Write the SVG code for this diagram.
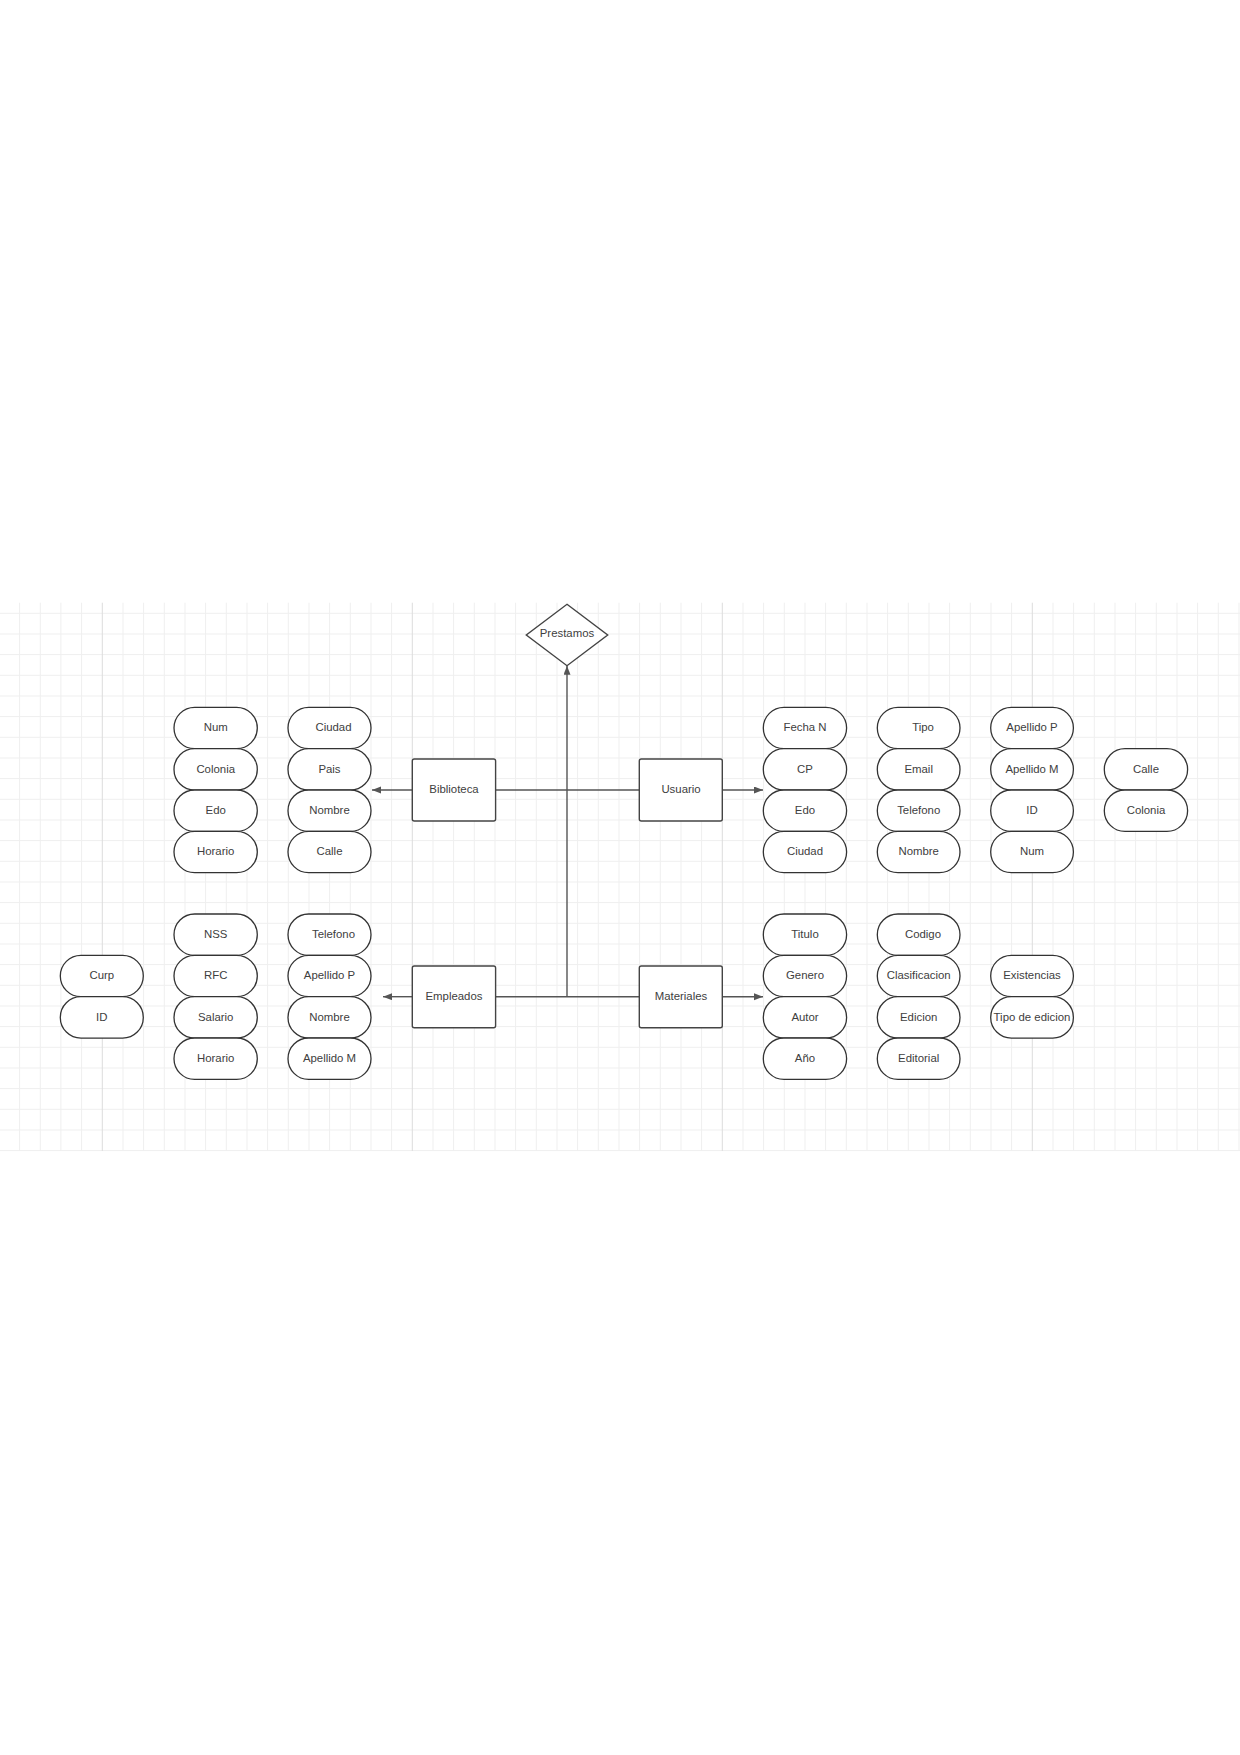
<svg xmlns="http://www.w3.org/2000/svg" width="1240" height="1755" viewBox="0 0 1240 1755">
<style>
.grid{stroke:#efefef;stroke-width:1;fill:none}
.major{stroke:#dcdcdc;stroke-width:1;fill:none}
.pill{fill:#ffffff;stroke:#333333;stroke-width:1.3}
.box{fill:#ffffff;stroke:#444444;stroke-width:1.4}
.t{font-family:"Liberation Sans",Arial,sans-serif;font-size:11.4px;fill:#404040;text-anchor:middle}
.con{stroke:#555555;stroke-width:1.4;fill:none}
</style>
<defs>
<marker id="arr" markerUnits="userSpaceOnUse" markerWidth="10" markerHeight="8" refX="9" refY="3.5" orient="auto">
<path d="M0,0 L9,3.5 L0,7 z" fill="#555555"/>
</marker>
</defs>
<rect width="1240" height="1755" fill="#ffffff"/>
<g id="grid">
<path class="grid" d="M19.6,602.7V1151M40.3,602.7V1151M60.9,602.7V1151M81.6,602.7V1151M123,602.7V1151M143.6,602.7V1151M164.3,602.7V1151M185,602.7V1151M205.6,602.7V1151M226.3,602.7V1151M247,602.7V1151M267.6,602.7V1151M288.3,602.7V1151M309,602.7V1151M329.6,602.7V1151M350.3,602.7V1151M371,602.7V1151M391.6,602.7V1151M433,602.7V1151M453.6,602.7V1151M474.3,602.7V1151M495,602.7V1151M515.6,602.7V1151M536.3,602.7V1151M557,602.7V1151M577.6,602.7V1151M598.3,602.7V1151M619,602.7V1151M639.6,602.7V1151M660.3,602.7V1151M681,602.7V1151M701.6,602.7V1151M743,602.7V1151M763.6,602.7V1151M784.3,602.7V1151M805,602.7V1151M825.6,602.7V1151M846.3,602.7V1151M867,602.7V1151M887.6,602.7V1151M908.3,602.7V1151M929,602.7V1151M949.6,602.7V1151M970.3,602.7V1151M991,602.7V1151M1011.6,602.7V1151M1053,602.7V1151M1073.6,602.7V1151M1094.3,602.7V1151M1115,602.7V1151M1135.6,602.7V1151M1156.3,602.7V1151M1177,602.7V1151M1197.6,602.7V1151M1218.3,602.7V1151M1239,602.7V1151"/>
<path class="grid" d="M0,613.3H1240M0,634H1240M0,654.6H1240M0,675.3H1240M0,696H1240M0,716.6H1240M0,737.3H1240M0,758H1240M0,778.6H1240M0,799.3H1240M0,820H1240M0,840.6H1240M0,861.3H1240M0,882H1240M0,902.6H1240M0,923.3H1240M0,944H1240M0,964.6H1240M0,985.3H1240M0,1006H1240M0,1026.6H1240M0,1047.3H1240M0,1068H1240M0,1088.6H1240M0,1109.3H1240M0,1130H1240M0,1150.6H1240"/>
<path class="major" d="M102.3,602.7V1151M412.3,602.7V1151M722.3,602.7V1151M1032.3,602.7V1151"/>
</g>
<g id="connectors">
<path class="con" d="M412.3,790H372" marker-end="url(#arr)"/>
<path class="con" d="M722.3,790H763" marker-end="url(#arr)"/>
<path class="con" d="M412.3,996.7H383" marker-end="url(#arr)"/>
<path class="con" d="M722.3,996.7H763" marker-end="url(#arr)"/>
<path class="con" d="M495.6,790H639.3"/>
<path class="con" d="M495.6,996.7H639.3"/>
<path class="con" d="M567,996.7V665.7" marker-end="url(#arr)"/>
</g>
<g id="prestamos">
<polygon class="box" points="567,604.3 607.7,635 567,665.7 526.3,635"/>
<text class="t" x="567" y="637">Prestamos</text>
</g>
<g id="biblioteca">
<rect class="box" x="412.3" y="759" width="83.3" height="62" rx="2"/>
<text class="t" x="454" y="793.2">Biblioteca</text>
</g>
<g id="usuario">
<rect class="box" x="639.3" y="759" width="83" height="62" rx="2"/>
<text class="t" x="681" y="793.2">Usuario</text>
</g>
<g id="empleados">
<rect class="box" x="412.3" y="966" width="83.3" height="61.7" rx="2"/>
<text class="t" x="454" y="1000">Empleados</text>
</g>
<g id="materiales">
<rect class="box" x="639.3" y="966" width="83" height="61.7" rx="2"/>
<text class="t" x="681" y="1000">Materiales</text>
</g>
<g id="b-num"><rect class="pill" x="174" y="707.3" width="83.3" height="41.4" rx="20.7"/><text class="t" x="215.7" y="731.1">Num</text></g>
<g id="b-colonia"><rect class="pill" x="174" y="748.7" width="83.3" height="41.4" rx="20.7"/><text class="t" x="215.7" y="772.5">Colonia</text></g>
<g id="b-edo"><rect class="pill" x="174" y="790" width="83.3" height="41.4" rx="20.7"/><text class="t" x="215.7" y="813.8">Edo</text></g>
<g id="b-horario"><rect class="pill" x="174" y="831.3" width="83.3" height="41.4" rx="20.7"/><text class="t" x="215.7" y="855.1">Horario</text></g>
<g id="b-ciudad"><rect class="pill" x="288" y="707.3" width="83" height="41.4" rx="20.7"/><text class="t" x="333.5" y="731.1">Ciudad</text></g>
<g id="b-pais"><rect class="pill" x="288" y="748.7" width="83" height="41.4" rx="20.7"/><text class="t" x="329.5" y="772.5">Pais</text></g>
<g id="b-nombre"><rect class="pill" x="288" y="790" width="83" height="41.4" rx="20.7"/><text class="t" x="329.5" y="813.8">Nombre</text></g>
<g id="b-calle"><rect class="pill" x="288" y="831.3" width="83" height="41.4" rx="20.7"/><text class="t" x="329.5" y="855.1">Calle</text></g>
<g id="u-fechan"><rect class="pill" x="763.3" y="707.3" width="83.3" height="41.4" rx="20.7"/><text class="t" x="805" y="731.1">Fecha N</text></g>
<g id="u-cp"><rect class="pill" x="763.3" y="748.7" width="83.3" height="41.4" rx="20.7"/><text class="t" x="805" y="772.5">CP</text></g>
<g id="u-edo"><rect class="pill" x="763.3" y="790" width="83.3" height="41.4" rx="20.7"/><text class="t" x="805" y="813.8">Edo</text></g>
<g id="u-ciudad"><rect class="pill" x="763.3" y="831.3" width="83.3" height="41.4" rx="20.7"/><text class="t" x="805" y="855.1">Ciudad</text></g>
<g id="u-tipo"><rect class="pill" x="877.3" y="707.3" width="82.7" height="41.4" rx="20.7"/><text class="t" x="923" y="731.1">Tipo</text></g>
<g id="u-email"><rect class="pill" x="877.3" y="748.7" width="82.7" height="41.4" rx="20.7"/><text class="t" x="918.7" y="772.5">Email</text></g>
<g id="u-telefono"><rect class="pill" x="877.3" y="790" width="82.7" height="41.4" rx="20.7"/><text class="t" x="918.7" y="813.8">Telefono</text></g>
<g id="u-nombre"><rect class="pill" x="877.3" y="831.3" width="82.7" height="41.4" rx="20.7"/><text class="t" x="918.7" y="855.1">Nombre</text></g>
<g id="u-apellidop"><rect class="pill" x="990.7" y="707.3" width="82.7" height="41.4" rx="20.7"/><text class="t" x="1032" y="731.1">Apellido P</text></g>
<g id="u-apellidom"><rect class="pill" x="990.7" y="748.7" width="82.7" height="41.4" rx="20.7"/><text class="t" x="1032" y="772.5">Apellido M</text></g>
<g id="u-id"><rect class="pill" x="990.7" y="790" width="82.7" height="41.4" rx="20.7"/><text class="t" x="1032" y="813.8">ID</text></g>
<g id="u-num"><rect class="pill" x="990.7" y="831.3" width="82.7" height="41.4" rx="20.7"/><text class="t" x="1032" y="855.1">Num</text></g>
<g id="u-calle"><rect class="pill" x="1104.3" y="748.7" width="83.3" height="41.4" rx="20.7"/><text class="t" x="1146" y="772.5">Calle</text></g>
<g id="u-colonia"><rect class="pill" x="1104.3" y="790" width="83.3" height="41.4" rx="20.7"/><text class="t" x="1146" y="813.8">Colonia</text></g>
<g id="e-curp"><rect class="pill" x="60.3" y="955.3" width="83" height="41.4" rx="20.7"/><text class="t" x="101.8" y="979.1">Curp</text></g>
<g id="e-id"><rect class="pill" x="60.3" y="996.7" width="83" height="41.4" rx="20.7"/><text class="t" x="101.8" y="1020.5">ID</text></g>
<g id="e-nss"><rect class="pill" x="174" y="914" width="83.3" height="41.4" rx="20.7"/><text class="t" x="215.7" y="937.8">NSS</text></g>
<g id="e-rfc"><rect class="pill" x="174" y="955.3" width="83.3" height="41.4" rx="20.7"/><text class="t" x="215.7" y="979.1">RFC</text></g>
<g id="e-salario"><rect class="pill" x="174" y="996.7" width="83.3" height="41.4" rx="20.7"/><text class="t" x="215.7" y="1020.5">Salario</text></g>
<g id="e-horario"><rect class="pill" x="174" y="1038" width="83.3" height="41.4" rx="20.7"/><text class="t" x="215.7" y="1061.8">Horario</text></g>
<g id="e-telefono"><rect class="pill" x="288" y="914" width="83" height="41.4" rx="20.7"/><text class="t" x="333.5" y="937.8">Telefono</text></g>
<g id="e-apellidop"><rect class="pill" x="288" y="955.3" width="83" height="41.4" rx="20.7"/><text class="t" x="329.5" y="979.1">Apellido P</text></g>
<g id="e-nombre"><rect class="pill" x="288" y="996.7" width="83" height="41.4" rx="20.7"/><text class="t" x="329.5" y="1020.5">Nombre</text></g>
<g id="e-apellidom"><rect class="pill" x="288" y="1038" width="83" height="41.4" rx="20.7"/><text class="t" x="329.5" y="1061.8">Apellido M</text></g>
<g id="m-titulo"><rect class="pill" x="763.3" y="914" width="83.3" height="41.4" rx="20.7"/><text class="t" x="805" y="937.8">Titulo</text></g>
<g id="m-genero"><rect class="pill" x="763.3" y="955.3" width="83.3" height="41.4" rx="20.7"/><text class="t" x="805" y="979.1">Genero</text></g>
<g id="m-autor"><rect class="pill" x="763.3" y="996.7" width="83.3" height="41.4" rx="20.7"/><text class="t" x="805" y="1020.5">Autor</text></g>
<g id="m-anio"><rect class="pill" x="763.3" y="1038" width="83.3" height="41.4" rx="20.7"/><text class="t" x="805" y="1061.8">Año</text></g>
<g id="m-codigo"><rect class="pill" x="877.3" y="914" width="82.7" height="41.4" rx="20.7"/><text class="t" x="923" y="937.8">Codigo</text></g>
<g id="m-clasificacion"><rect class="pill" x="877.3" y="955.3" width="82.7" height="41.4" rx="20.7"/><text class="t" x="918.7" y="979.1">Clasificacion</text></g>
<g id="m-edicion"><rect class="pill" x="877.3" y="996.7" width="82.7" height="41.4" rx="20.7"/><text class="t" x="918.7" y="1020.5">Edicion</text></g>
<g id="m-editorial"><rect class="pill" x="877.3" y="1038" width="82.7" height="41.4" rx="20.7"/><text class="t" x="918.7" y="1061.8">Editorial</text></g>
<g id="m-existencias"><rect class="pill" x="990.7" y="955.3" width="82.7" height="41.4" rx="20.7"/><text class="t" x="1032" y="979.1">Existencias</text></g>
<g id="m-tipoedicion"><rect class="pill" x="990.7" y="996.7" width="82.7" height="41.4" rx="20.7"/><text class="t" x="1032" y="1020.5">Tipo de edicion</text></g>
</svg>
